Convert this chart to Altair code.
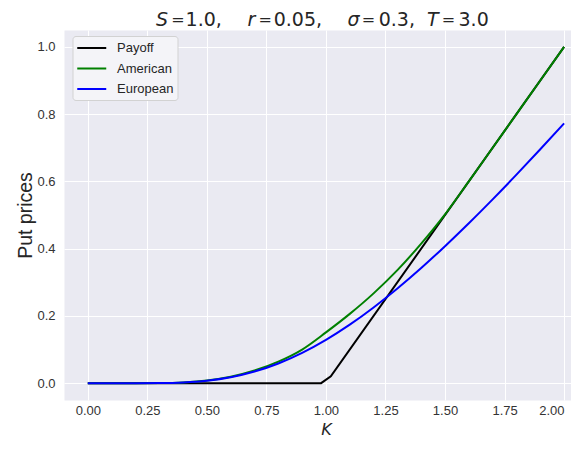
import altair as alt
import pandas as pd

# ---------------- data ----------------
K_GRID = [0.0, 0.1, 0.2, 0.3, 0.4, 0.5, 0.6, 0.7, 0.8, 0.9, 1.0,
          1.1, 1.2, 1.3, 1.4, 1.5, 1.6, 1.7, 1.8, 1.9, 2.0]
EUROPEAN = [0.0, 0.0, 0.00002, 0.0004, 0.0022, 0.0073, 0.0176, 0.0345, 0.0586, 0.0901, 0.1288,
            0.1740, 0.2252, 0.2816, 0.3425, 0.4074, 0.4755, 0.5465, 0.6199, 0.6953, 0.7724]
AMERICAN = [0.0, 0.0, 0.00002, 0.0004, 0.0023, 0.0078, 0.0190, 0.0375, 0.0640, 0.1000, 0.1510,
            0.2060, 0.2670, 0.3360, 0.4150, 0.5020, 0.6000, 0.7000, 0.8000, 0.9000, 1.0000]
PAYOFF_K = [0.0, 0.9796, 1.0204, 2.0]
PAYOFF = [0.0, 0.0, 0.0204, 1.0]

SERIES = ["Payoff", "American", "European"]
COLORS = ["#000000", "#008000", "#0000ff"]

X_TICKS = [0.0, 0.25, 0.5, 0.75, 1.0, 1.25, 1.5, 1.75, 2.0]
Y_TICKS = [0.0, 0.2, 0.4, 0.6, 0.8, 1.0]

# title pieces (math-style title: variables italic)
TITLE_ITALIC = ["S", "r", "σ", "T"]
TITLE_ITALIC_X = [92, 183.5, 283.5, 363]
TITLE_EQ = ["=", "=", "=", "="]
TITLE_EQ_X = [107.3, 194.4, 297.7, 377.7]
TITLE_NUM = ["1.0,", "0.05,", "0.3,", "3.0"]
TITLE_NUM_X = [121.6, 209.7, 314.7, 394.5]

# ---------------- build tables ----------------
opt_df = pd.DataFrame({
    "K": K_GRID * 2,
    "V": AMERICAN + EUROPEAN,
    "series": ["American"] * len(K_GRID) + ["European"] * len(K_GRID),
})
pay_df = pd.DataFrame({"K": PAYOFF_K, "V": PAYOFF, "series": ["Payoff"] * len(PAYOFF_K)})

x_enc = alt.X("K:Q",
              scale=alt.Scale(domain=[-0.1, 2.029], nice=False, zero=False),
              axis=alt.Axis(values=X_TICKS, format=".2f", title="K",
                            titleFont="DejaVu Sans", titleFontStyle="italic",
                            titleFontSize=16, titleFontWeight="normal",
                            titleX=262, titleY=34, titleBaseline="alphabetic",
                            titleAlign="center", labelPadding=4, labelFlush=10))
y_enc = alt.Y("V:Q",
              scale=alt.Scale(domain=[-0.05, 1.05], nice=False, zero=False),
              axis=alt.Axis(values=Y_TICKS, format=".1f", title="Put prices",
                            titleFont="Liberation Sans", titleFontSize=19.5,
                            titleFontWeight="normal",
                            titleX=-39, titleY=185, titleAngle=270,
                            titleBaseline="middle", titleAlign="center",
                            labelPadding=9))

legend = alt.Legend(title=None, orient="none", legendX=8.5, legendY=6,
                    fillColor="#F4F4F8", strokeColor="#D2D2D2", cornerRadius=3,
                    padding=3.5, symbolType="M-1,0H3", symbolSize=210,
                    symbolStrokeWidth=2, labelFont="Liberation Sans",
                    labelFontSize=13, labelColor="#262626", rowPadding=4.5,
                    labelOffset=24)
color_enc = alt.Color("series:N", scale=alt.Scale(domain=SERIES, range=COLORS),
                      legend=legend)

payoff_line = alt.Chart(pay_df).mark_line(strokeWidth=2).encode(
    x=x_enc, y=y_enc, color=color_enc)

option_lines = alt.Chart(opt_df).mark_line(strokeWidth=2, interpolate="monotone").encode(
    x=x_enc, y=y_enc, color=color_enc, detail="series:N")

ital_df = pd.DataFrame({"t": TITLE_ITALIC, "px": TITLE_ITALIC_X})
eq_df = pd.DataFrame({"t": TITLE_EQ, "px": TITLE_EQ_X})
num_df = pd.DataFrame({"t": TITLE_NUM, "px": TITLE_NUM_X})

title_ital = alt.Chart(ital_df).mark_text(
    align="left", baseline="alphabetic", font="DejaVu Sans", fontSize=19,
    fontStyle="italic", color="#262626").encode(
    x=alt.X("px:Q", scale=None, axis=None), y=alt.value(-4.2), text="t:N")
title_eq = alt.Chart(eq_df).mark_text(
    align="left", baseline="alphabetic", font="DejaVu Sans", fontSize=16,
    color="#262626").encode(
    x=alt.X("px:Q", scale=None, axis=None), y=alt.value(-5.2), text="t:N")
title_num = alt.Chart(num_df).mark_text(
    align="left", baseline="alphabetic", font="DejaVu Sans", fontSize=19,
    color="#262626").encode(
    x=alt.X("px:Q", scale=None, axis=None), y=alt.value(-4.2), text="t:N")

chart = alt.layer(payoff_line, option_lines, title_ital, title_eq, title_num).properties(
    width=507, height=370,
    autosize=alt.AutoSizeParams(type="none"),
    padding={"left": 56, "top": 22, "right": 0, "bottom": 38},
    background="white",
).configure_view(
    fill="#EAEAF2", stroke="transparent"
).configure_axis(
    domain=False, ticks=False, tickSize=0,
    grid=True, gridColor="#FFFFFF", gridWidth=1,
    labelFont="Liberation Sans", labelFontSize=13, labelColor="#333333",
    titleColor="#262626",
)

chart.save("out.html", embed_options={"renderer": "svg", "actions": False})
